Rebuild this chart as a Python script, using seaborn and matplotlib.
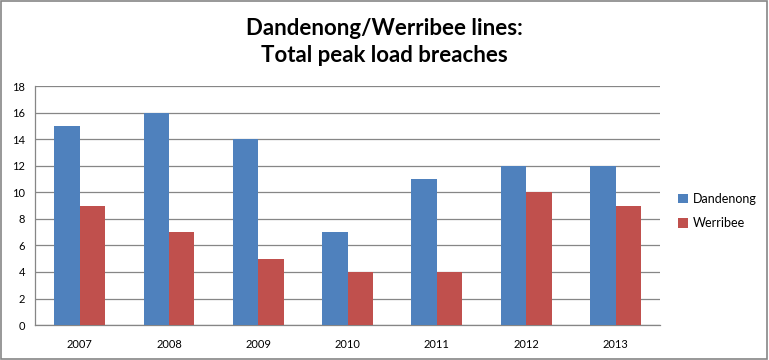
import pandas as pd
import matplotlib.pyplot as plt
import seaborn as sns
from matplotlib.patches import Rectangle

# Chart values
years = ['2007', '2008', '2009', '2010', '2011', '2012', '2013']
dandenong = [15, 16, 14, 7, 11, 12, 12]
werribee = [9, 7, 5, 4, 4, 10, 9]

data = pd.DataFrame({
    'year': years * 2,
    'breaches': dandenong + werribee,
    'line': ['Dandenong'] * len(years) + ['Werribee'] * len(years),
})

sns.set_style('white')
plt.rcParams['font.family'] = ['Lato', 'DejaVu Sans']
plt.rcParams['text.color'] = 'black'
plt.rcParams['xtick.color'] = 'black'
plt.rcParams['ytick.color'] = 'black'

fig = plt.figure(figsize=(7.69, 3.6), dpi=100)
ax = fig.add_axes([0.0455, 0.097, 0.813, 0.664])

sns.barplot(data=data, x='year', y='breaches', hue='line',
            palette=['#4F81BD', '#C0504D'], width=0.57, saturation=1,
            linewidth=0, ax=ax, zorder=3)

ax.set_ylim(0, 18)
ax.set_yticks(range(0, 19, 2))
ax.set_xlim(-0.5, len(years) - 0.5)
ax.yaxis.grid(True, color='#868686', linewidth=0.9, zorder=0)
ax.set_axisbelow(True)
ax.set_xlabel('')
ax.set_ylabel('')

for side in ['top', 'right']:
    ax.spines[side].set_visible(False)
for side in ['left', 'bottom']:
    ax.spines[side].set_color('#868686')
    ax.spines[side].set_linewidth(0.9)

# category-boundary tick marks like Excel
ax.set_xticks([i - 0.5 for i in range(len(years) + 1)], minor=True)
ax.tick_params(axis='x', which='minor', length=5, color='#868686', width=0.9)
ax.tick_params(axis='x', which='major', length=0, labelsize=8, pad=10)
ax.tick_params(axis='y', length=4, color='#868686', width=0.9, labelsize=8, pad=3)

ax.legend(loc='upper left', bbox_to_anchor=(1.01, 0.6), frameon=False,
          fontsize=9, handlelength=0.8, handleheight=0.8, labelspacing=1.0,
          handletextpad=0.4)

fig.text(0.5, 0.922, 'Dandenong/Werribee lines:', ha='center', va='center',
         fontsize=16, fontweight='bold', color='black')
fig.text(0.5, 0.847, 'Total peak load breaches', ha='center', va='center',
         fontsize=16, fontweight='bold', color='black')

fig.patches.append(Rectangle((0.001, 0.002), 0.997, 0.995, transform=fig.transFigure,
                             fill=False, edgecolor='#868686', linewidth=1.2))

fig.savefig('out.png', dpi=100)
